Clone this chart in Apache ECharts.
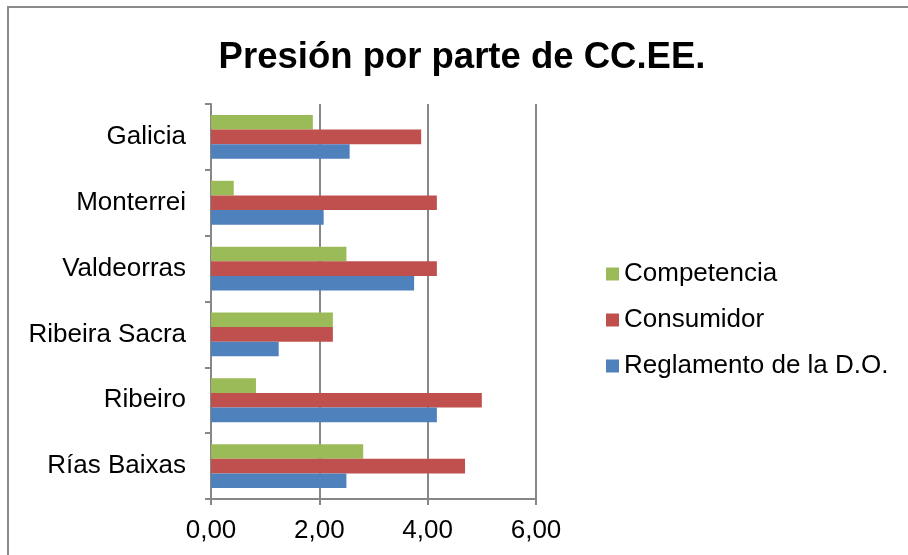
<!DOCTYPE html>
<html>
<head>
<meta charset="utf-8">
<script src="https://cdn.jsdelivr.net/npm/echarts@6/dist/echarts.min.js"></script>
<style>
  html, body { margin: 0; padding: 0; background: #fff; }
  #chart { width: 908px; height: 555px; }
</style>
</head>
<body>
<div id="chart"></div>
<script>
// Regions, listed bottom to top on the category axis
const regions = ['Rías Baixas', 'Ribeiro', 'Ribeira Sacra', 'Valdeorras', 'Monterrei', 'Galicia'];

// Average pressure scores per region
const reglamento = [2.50, 4.17, 1.25, 3.75, 2.08, 2.56];
const consumidor = [4.69, 5.00, 2.25, 4.17, 4.17, 3.88];
const competencia = [2.81, 0.83, 2.25, 2.50, 0.42, 1.88];

const seriesNames = ['Competencia', 'Consumidor', 'Reglamento de la D.O.'];
const xTicks = [0, 2, 4, 6];

const FONT = '"Liberation Sans", Arial, sans-serif';
const GRAY = '#878787';

const chart = echarts.init(document.getElementById('chart'), null, { renderer: 'canvas' });

// Within each group the first series sits on top, so Competencia comes first
chart.setOption({
  animation: false,
  backgroundColor: '#ffffff',
  textStyle: { fontFamily: FONT },
  title: {
    text: 'Presión por parte de CC.EE.',
    left: 457,
    textAlign: 'center',
    top: 34,
    textStyle: { fontFamily: FONT, fontSize: 36.5, fontWeight: 'bold', color: '#000' }
  },
  graphic: [{
    type: 'rect',
    shape: { x: 8, y: 7, width: 920, height: 570 },
    style: { fill: 'none', stroke: '#898989', lineWidth: 2 },
    silent: true,
    z: 10
  }],
  legend: {
    orient: 'vertical',
    left: 601,
    top: 256,
    itemWidth: 13,
    itemHeight: 13,
    itemGap: 20,
    icon: 'rect',
    data: seriesNames,
    textStyle: { fontFamily: FONT, fontSize: 26, color: '#000', padding: [0, 0, 0, 0] }
  },
  grid: { left: 211, right: 372, top: 104, bottom: 56, containLabel: false },
  xAxis: {
    type: 'value',
    min: xTicks[0],
    max: xTicks[xTicks.length - 1],
    interval: 2,
    axisLine: { show: true, lineStyle: { color: GRAY, width: 2 } },
    axisTick: { show: true, length: 6, lineStyle: { color: GRAY, width: 2 } },
    splitLine: { show: true, lineStyle: { color: GRAY, width: 2 } },
    axisLabel: {
      margin: 19,
      fontFamily: FONT,
      fontSize: 26,
      color: '#000',
      formatter: v => v.toFixed(2).replace('.', ',')
    }
  },
  yAxis: {
    type: 'category',
    data: regions,
    axisLine: { show: true, lineStyle: { color: GRAY, width: 2 } },
    axisTick: { show: true, length: 6, lineStyle: { color: GRAY, width: 2 } },
    axisLabel: { margin: 25, fontFamily: FONT, fontSize: 26, color: '#000' }
  },
  series: [
    { name: seriesNames[0], type: 'bar', data: competencia, itemStyle: { color: '#9BBB59' }, barGap: '0%', barCategoryGap: '33.3%' },
    { name: seriesNames[1], type: 'bar', data: consumidor, itemStyle: { color: '#C0504D' }, barGap: '0%', barCategoryGap: '33.3%' },
    { name: seriesNames[2], type: 'bar', data: reglamento, itemStyle: { color: '#4F81BD' }, barGap: '0%', barCategoryGap: '33.3%' }
  ]
});
</script>
</body>
</html>
